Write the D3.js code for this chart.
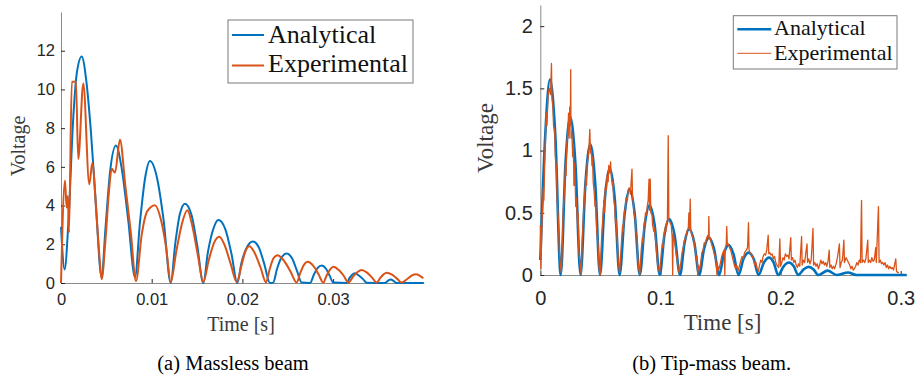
<!DOCTYPE html>
<html>
<head>
<meta charset="utf-8">
<script src="https://cdn.jsdelivr.net/npm/d3@7"></script>
<style>
  body { margin: 0; background: #fff; }
  .tick text { font-family: "Liberation Sans", Arial, sans-serif; fill: #262626; }
</style>
</head>
<body>
<svg id="fig" width="917" height="379"></svg>
<script>
// (a) massless beam: [time s, voltage]
const leftAnalytical = [
  [0, 2.9], [0.0004, 0.7], [0.0008, 3.0], [0.00136, 8.6], [0.00173, 10.8], [0.00228, 11.7],
  [0.0028, 10.4], [0.0033, 7.8], [0.0038, 4.4], [0.00448, 0.3],
  [0.0049, 2.8], [0.0054, 5.7], [0.00606, 7.1], [0.0067, 5.9], [0.0074, 3.3], [0.00816, 0.3],
  [0.0087, 3.1], [0.0093, 5.5], [0.0098, 6.3], [0.0106, 5.4], [0.0113, 3.3], [0.0121, 0],
  [0.0126, 2.05], [0.0131, 3.55], [0.01367, 4.1], [0.0144, 3.5], [0.015, 2.0], [0.01569, 0],
  [0.0162, 1.6], [0.0168, 2.8], [0.01735, 3.25], [0.0181, 2.8], [0.0188, 1.5], [0.01944, 0],
  [0.0199, 1.05], [0.0205, 1.85], [0.02113, 2.15], [0.0218, 1.85], [0.0224, 1.0], [0.02304, 0], [0.0234, 0.02],
  [0.0238, 0.7], [0.0243, 1.3], [0.02488, 1.52], [0.0255, 1.25], [0.026, 0.65], [0.02653, 0.02], [0.02745, 0],
  [0.0279, 0.45], [0.0283, 0.78], [0.02874, 0.9], [0.0292, 0.75], [0.0296, 0.4], [0.03003, 0.02], [0.0315, 0],
  [0.0318, 0.25], [0.0321, 0.43], [0.03241, 0.5], [0.0328, 0.4], [0.0333, 0.2], [0.0337, 0.01], [0.03572, 0],
  [0.036, 0.1], [0.03635, 0.18], [0.0367, 0.1], [0.037, 0], [0.04, 0]
];
const leftExperimental = [
  [0, 0], [0.00044, 5.3], [0.00062, 3.9], [0.00075, 4.5], [0.00088, 2.6], [0.00119, 10.4],
  [0.00165, 10.4], [0.0019, 6.4], [0.00246, 10.3], [0.00312, 5.1], [0.00345, 6.2],
  [0.0039, 3.6], [0.0042, 1.6], [0.00448, 0.2],
  [0.0049, 2.2], [0.0053, 4.8], [0.00559, 5.9], [0.00595, 5.7], [0.0065, 7.4], [0.0071, 5.0], [0.0077, 2.6], [0.00827, 0.1],
  [0.0089, 2.5], [0.0095, 3.7], [0.01036, 4.02], [0.011, 3.3], [0.0116, 1.8], [0.0121, 0.05],
  [0.0127, 1.6], [0.0133, 3.0], [0.01393, 3.76], [0.0145, 2.9], [0.0151, 1.4], [0.01569, 0.05],
  [0.0163, 1.2], [0.0169, 2.1], [0.01745, 2.39], [0.018, 2.0], [0.0187, 1.0], [0.01937, 0.05],
  [0.0199, 0.9], [0.0203, 1.6], [0.02076, 1.9], [0.0213, 1.6], [0.022, 0.8], [0.0226, 0.03],
  [0.023, 0.7], [0.0234, 1.25], [0.02389, 1.44], [0.0245, 1.2], [0.0253, 0.6], [0.02598, 0.03],
  [0.0264, 0.55], [0.0268, 0.95], [0.0272, 1.1], [0.0278, 0.9], [0.0284, 0.45], [0.02892, 0.02],
  [0.0293, 0.4], [0.0297, 0.72], [0.03003, 0.84], [0.0306, 0.68], [0.0312, 0.35], [0.03168, 0.02],
  [0.0322, 0.33], [0.0327, 0.57], [0.03315, 0.67], [0.0337, 0.55], [0.0343, 0.28], [0.03481, 0.02],
  [0.0352, 0.26], [0.0356, 0.46], [0.0359, 0.53], [0.0365, 0.43], [0.0371, 0.2], [0.03756, 0.02],
  [0.0382, 0.22], [0.0387, 0.39], [0.03914, 0.45], [0.03995, 0.24]
];
const leftXTicks = [0, 0.01, 0.02, 0.03];
const leftYTicks = [0, 2, 4, 6, 8, 10, 12];

// (b) tip-mass beam
const rightAnalytical = [
  [0, 0.12], [0.004, 1.1], [0.008, 1.57], [0.0125, 1.12], [0.017, 0],
  [0.021, 0.9], [0.0249, 1.27], [0.0292, 0.9], [0.0335, 0],
  [0.0376, 0.74], [0.0416, 1.05], [0.0457, 0.74], [0.0497, 0],
  [0.0537, 0.61], [0.0577, 0.86], [0.062, 0.61], [0.066, 0],
  [0.0702, 0.49], [0.0744, 0.69], [0.0786, 0.49], [0.0828, 0],
  [0.0869, 0.4], [0.091, 0.56], [0.0952, 0.4], [0.0994, 0],
  [0.1033, 0.32], [0.1073, 0.45], [0.1118, 0.32], [0.1163, 0],
  [0.1201, 0.26], [0.124, 0.37], [0.1282, 0.26], [0.1323, 0],
  [0.1363, 0.21], [0.1404, 0.30], [0.1446, 0.21], [0.1489, 0],
  [0.1528, 0.17], [0.1567, 0.24], [0.1608, 0.17], [0.165, 0],
  [0.1692, 0.13], [0.1734, 0.18], [0.1776, 0.13], [0.1817, 0],
  [0.1861, 0.1], [0.1905, 0.14], [0.1943, 0.1], [0.198, 0],
  [0.2026, 0.07], [0.2068, 0.1], [0.211, 0.07], [0.2147, 0],
  [0.2192, 0.045], [0.2232, 0.065], [0.2275, 0.045], [0.2313, 0],
  [0.2392, 0.035], [0.2466, 0], [0.2562, 0.02], [0.263, 0], [0.305, 0]
];
const rightExperimental = [
  [0, 0.4], [0.0005, 0.05], [0.0015, 0.45], [0.0025, 0.7], [0.003, 0.6], [0.004, 1.05], [0.005, 1.3], [0.0055, 1.2],
  [0.0065, 1.45], [0.0075, 1.5], [0.0085, 1.45], [0.0093, 1.7], [0.0097, 1.42], [0.0105, 1.35], [0.011, 1.2], [0.012, 1.15],
  [0.0125, 0.95], [0.0135, 0.85], [0.014, 0.6], [0.015, 0.45], [0.0158, 0.2], [0.0165, 0.1], [0.0175, 0.02],
  [0.0185, 0.3], [0.019, 0.5], [0.02, 0.65], [0.021, 0.9], [0.0215, 0.8], [0.022, 1.05], [0.023, 1.15], [0.0235, 1.3],
  [0.024, 1.1], [0.0245, 1.35], [0.025, 1.2], [0.0253, 1.65], [0.0256, 1.1], [0.0262, 1.15], [0.027, 0.95], [0.0275, 1.05],
  [0.028, 0.72], [0.0285, 0.9], [0.029, 0.75], [0.0295, 0.55], [0.03, 0.62], [0.031, 0.4], [0.0315, 0.5], [0.032, 0.2],
  [0.033, 0.1], [0.034, 0],
  [0.035, 0.3], [0.036, 0.5], [0.037, 0.65], [0.038, 0.8], [0.0385, 0.72], [0.039, 0.9], [0.04, 0.95], [0.0405, 1.02],
  [0.0412, 1.17], [0.0418, 0.98], [0.0425, 1.0], [0.043, 0.88], [0.0435, 0.95], [0.044, 0.75], [0.045, 0.65], [0.0455, 0.55],
  [0.046, 0.6], [0.047, 0.35], [0.048, 0.25], [0.049, 0.05], [0.0498, 0],
  [0.051, 0.3], [0.052, 0.45], [0.053, 0.6], [0.0535, 0.5], [0.054, 0.7], [0.055, 0.68], [0.0555, 0.8], [0.0565, 0.75],
  [0.057, 0.88], [0.0578, 0.82], [0.0585, 0.91], [0.059, 0.8], [0.06, 0.72], [0.0605, 0.75], [0.061, 0.62], [0.062, 0.55],
  [0.0625, 0.42], [0.063, 0.45], [0.064, 0.28], [0.065, 0.1], [0.066, 0.02],
  [0.0675, 0.25], [0.0685, 0.4], [0.069, 0.35], [0.07, 0.5], [0.071, 0.55], [0.0715, 0.62], [0.0725, 0.6], [0.073, 0.68],
  [0.074, 0.7], [0.075, 0.65], [0.0763, 0.85], [0.0768, 0.62], [0.0775, 0.58], [0.078, 0.5], [0.079, 0.45], [0.0795, 0.35],
  [0.0805, 0.3], [0.081, 0.15], [0.082, 0.05], [0.0828, 0],
  [0.084, 0.2], [0.085, 0.3], [0.0855, 0.26], [0.0865, 0.42], [0.087, 0.4], [0.0875, 0.5], [0.0885, 0.48], [0.089, 0.55],
  [0.0898, 0.6], [0.0905, 0.77], [0.091, 0.52], [0.0915, 0.77], [0.092, 0.5], [0.093, 0.48], [0.0935, 0.4], [0.0945, 0.35],
  [0.095, 0.38], [0.0965, 0.22], [0.0975, 0.1], [0.0985, 0.05], [0.0994, 0.02],
  [0.1005, 0.15], [0.1015, 0.25], [0.102, 0.22], [0.103, 0.32], [0.104, 0.38], [0.1045, 0.35], [0.1052, 0.42], [0.1058, 0.44],
  [0.1065, 1.12], [0.107, 0.45], [0.108, 0.42], [0.109, 0.4], [0.1098, 0.3], [0.1102, 0], [0.1106, 0.33], [0.1115, 0.28],
  [0.1125, 0.22], [0.1135, 0.15], [0.1145, 0.08], [0.1155, 0.02],
  [0.117, 0.1], [0.118, 0.18], [0.119, 0.22], [0.12, 0.28], [0.121, 0.3], [0.122, 0.35], [0.1232, 0.38], [0.1237, 0.5],
  [0.1242, 0.36], [0.1248, 0.61], [0.1253, 0.35], [0.126, 0.33], [0.127, 0.3], [0.128, 0.27], [0.129, 0.2], [0.13, 0.12],
  [0.1305, 0.15], [0.131, 0], [0.1315, 0.08], [0.1325, 0.04],
  [0.1335, 0.1], [0.1345, 0.18], [0.1355, 0.2], [0.1365, 0.26], [0.1375, 0.25], [0.1385, 0.3], [0.1395, 0.32], [0.14, 0.3],
  [0.1403, 0.47], [0.1407, 0.29], [0.1415, 0.3], [0.1425, 0.25], [0.1435, 0.22], [0.1445, 0.18], [0.1455, 0.15], [0.1465, 0.1],
  [0.147, 0], [0.1475, 0.08], [0.1485, 0.04],
  [0.15, 0.1], [0.151, 0.15], [0.152, 0.18], [0.153, 0.2], [0.1536, 0], [0.154, 0.22], [0.1548, 0.25], [0.1552, 0.39],
  [0.1557, 0.24], [0.1565, 0.25], [0.1575, 0.22], [0.1585, 0.2], [0.1595, 0.16], [0.1605, 0.12], [0.1615, 0.08], [0.1625, 0.05],
  [0.1635, 0.08], [0.1645, 0.03],
  [0.166, 0.08], [0.167, 0.12], [0.168, 0.15], [0.169, 0.13], [0.17, 0.18], [0.1715, 0.2], [0.1725, 0.22], [0.1733, 0.42],
  [0.1738, 0.2], [0.1745, 0.18], [0.1755, 0.17], [0.1765, 0.15], [0.1775, 0.12], [0.1785, 0.08], [0.1795, 0.1], [0.1805, 0.05],
  [0.1815, 0.03],
  [0.1825, 0.08], [0.1835, 0.12], [0.1845, 0.1], [0.1855, 0.15], [0.1865, 0.17], [0.1875, 0.16], [0.1885, 0.2], [0.1897, 0.32],
  [0.1902, 0.17], [0.191, 0.18], [0.192, 0.16], [0.193, 0.17], [0.194, 0.13], [0.195, 0.15], [0.196, 0.1], [0.197, 0.08],
  [0.1985, 0.06],
  [0.1994, 0.29], [0.2, 0.07], [0.201, 0.1], [0.202, 0.14], [0.203, 0.12], [0.204, 0.17], [0.205, 0.15], [0.206, 0.16],
  [0.207, 0.13], [0.2085, 0.3], [0.209, 0.12], [0.21, 0.14], [0.211, 0.1], [0.212, 0.12], [0.213, 0.08], [0.214, 0.06],
  [0.215, 0.09], [0.216, 0.07], [0.2175, 0.31], [0.218, 0.08], [0.219, 0.12], [0.22, 0.1], [0.222, 0.25], [0.2225, 0.1],
  [0.2235, 0.13], [0.2245, 0.09], [0.2255, 0.12], [0.227, 0.375], [0.2275, 0.08], [0.2285, 0.1], [0.2295, 0.07], [0.2305, 0.09],
  [0.2315, 0.05], [0.2325, 0.08], [0.2335, 0.12], [0.2345, 0.09], [0.2355, 0.11], [0.2365, 0.08], [0.2375, 0.1], [0.2385, 0.07],
  [0.2395, 0.11], [0.2405, 0.2], [0.241, 0.06], [0.242, 0.08], [0.243, 0.05], [0.244, 0.07], [0.245, 0.05], [0.2465, 0.1],
  [0.2475, 0.15], [0.249, 0.25], [0.2495, 0.06], [0.2505, 0.1], [0.2515, 0.12], [0.2527, 0.28], [0.2532, 0.1], [0.2545, 0.14],
  [0.2555, 0.12], [0.2565, 0.1], [0.2575, 0.08], [0.2585, 0.05], [0.2595, 0.07], [0.2605, 0.04], [0.2615, 0.05], [0.2625, 0.07],
  [0.2635, 0.1], [0.2645, 0.08], [0.2655, 0.12], [0.2665, 0.1], [0.2674, 0.6], [0.2679, 0.1], [0.269, 0.12], [0.27, 0.1],
  [0.271, 0.13], [0.2726, 0.28], [0.273, 0.1], [0.274, 0.12], [0.275, 0.1], [0.276, 0.14], [0.277, 0.11], [0.278, 0.12],
  [0.2792, 0.22], [0.2797, 0.1], [0.2815, 0.55], [0.282, 0.1], [0.283, 0.12], [0.284, 0.09], [0.285, 0.1], [0.286, 0.08],
  [0.287, 0.1], [0.288, 0.06], [0.289, 0.08], [0.29, 0.05], [0.291, 0.07], [0.292, 0.05], [0.293, 0.06], [0.294, 0.04],
  [0.2959, 0.13], [0.2965, 0.03], [0.2975, 0.02], [0.2985, 0.02]
];
const rightXTicks = [0, 0.1, 0.2, 0.3];
const rightYTicks = [0, 0.5, 1, 1.5, 2];

const blue = "#0072BD", orange = "#D95319", axisGrey = "#8a8a8a";
const serifFont = '"Liberation Serif", "Times New Roman", serif';
const svg = d3.select("#fig");

function drawPanel(p) {
  const x = d3.scaleLinear().domain(p.xDomain).range([p.left, p.right]);
  const y = d3.scaleLinear().domain(p.yDomain).range([p.bottom, p.top]);

  const xAxis = svg.append("g")
    .attr("transform", `translate(0,${p.bottom})`)
    .call(d3.axisBottom(x).tickValues(p.xTicks).tickFormat(d3.format("~g"))
      .tickSizeInner(-4).tickSizeOuter(0).tickPadding(p.xPad));
  const yAxis = svg.append("g")
    .attr("transform", `translate(${p.left},0)`)
    .call(d3.axisLeft(y).tickValues(p.yTicks).tickFormat(d3.format("~g"))
      .tickSizeInner(-4).tickSizeOuter(0).tickPadding(p.yPad));
  [xAxis, yAxis].forEach(a => {
    a.select(".domain").attr("stroke", axisGrey);
    a.selectAll(".tick line").attr("stroke", "#262626");
    a.selectAll(".tick text").style("font-size", p.tickFont + "px");
  });

  const line = d3.line().x(d => x(d[0])).y(d => y(d[1]));
  svg.append("path")
    .attr("fill", "none").attr("stroke", blue).attr("stroke-width", p.aWidth)
    .attr("d", line.curve(d3.curveMonotoneX)(p.analytical));
  svg.append("path")
    .attr("fill", "none").attr("stroke", orange).attr("stroke-width", p.eWidth)
    .attr("stroke-linejoin", "round")
    .attr("d", line.curve(p.eCurve)(p.experimental));

  svg.append("text").style("font-family", serifFont)
    .attr("x", p.xLabel[0]).attr("y", p.xLabel[1])
    .attr("text-anchor", "middle").attr("fill", "#3a3a3a")
    .style("font-size", p.labelFont + "px").text("Time [s]");
  svg.append("text").style("font-family", serifFont)
    .attr("transform", `translate(${p.yLabel[0]},${p.yLabel[1]}) rotate(-90)`)
    .attr("text-anchor", "middle").attr("fill", "#3a3a3a")
    .style("font-size", p.labelFont + "px").text("Voltage");

  // legend
  const lg = p.legend;
  svg.append("rect").attr("x", lg.x).attr("y", lg.y).attr("width", lg.w).attr("height", lg.h)
    .attr("fill", "#fff").attr("stroke", "#7a7a7a").attr("stroke-width", 1);
  [["Analytical", blue, p.aWidth], ["Experimental", orange, lg.eWidth]].forEach((e, i) => {
    svg.append("line").attr("x1", lg.x + 4).attr("x2", lg.x + 4 + lg.lineLen)
      .attr("y1", lg.lineY[i]).attr("y2", lg.lineY[i])
      .attr("stroke", e[1]).attr("stroke-width", e[2]);
    svg.append("text").style("font-family", serifFont)
      .attr("x", lg.textX).attr("y", lg.textY[i]).attr("fill", "#111")
      .style("font-size", lg.font + "px").text(e[0]);
  });

  svg.append("text").style("font-family", serifFont)
    .attr("x", p.caption[0]).attr("y", p.caption[1]).attr("text-anchor", "middle")
    .attr("fill", "#000").style("font-size", "20.5px").text(p.caption[2]);
}

drawPanel({
  xDomain: [0, 0.04], yDomain: [0, 14], left: 61, right: 423.8, top: 12, bottom: 283,
  xTicks: leftXTicks, yTicks: leftYTicks, xPad: 10, yPad: 6, tickFont: 16.5,
  analytical: leftAnalytical, experimental: leftExperimental, aWidth: 2, eWidth: 2,
  eCurve: d3.curveMonotoneX,
  xLabel: [241, 331], yLabel: [25, 146], labelFont: 20,
  legend: { x: 228, y: 20, w: 185, h: 63, lineLen: 32, lineY: [35, 65.5], textX: 268, textY: [43, 72], font: 26, eWidth: 2 },
  caption: [233, 370, "(a) Massless beam"]
});

drawPanel({
  xDomain: [0, 0.305], yDomain: [0, 2.17], left: 540.3, right: 906.7, top: 5, bottom: 275,
  xTicks: rightXTicks, yTicks: rightYTicks, xPad: 16, yPad: 7.5, tickFont: 20,
  analytical: rightAnalytical, experimental: rightExperimental, aWidth: 2.6, eWidth: 1.3,
  eCurve: d3.curveLinear,
  xLabel: [722.5, 330], yLabel: [493, 138], labelFont: 23,
  legend: { x: 733.3, y: 15.7, w: 163.7, h: 53.3, lineLen: 34, lineY: [29.3, 53.3], textX: 774, textY: [34.5, 60], font: 22, eWidth: 1 },
  caption: [711.7, 370, "(b) Tip-mass beam."]
});
</script>
</body>
</html>
